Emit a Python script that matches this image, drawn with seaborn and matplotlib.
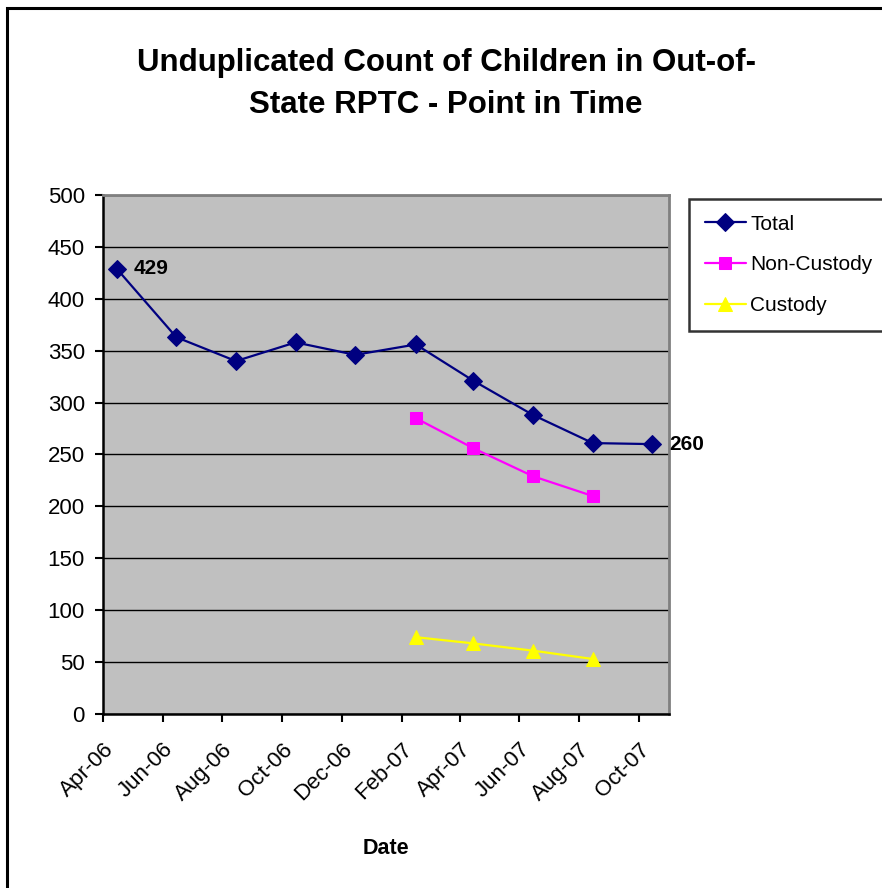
import pandas as pd
import numpy as np
import matplotlib
matplotlib.use('Agg')
import matplotlib.pyplot as plt
import matplotlib.dates as mdates
from matplotlib.patches import Rectangle
import seaborn as sns

# data (points sit mid-month)
dates = pd.to_datetime(['2006-04-15', '2006-06-15', '2006-08-15', '2006-10-15', '2006-12-15',
                        '2007-02-15', '2007-04-15', '2007-06-15', '2007-08-15', '2007-10-15'])
total = [429, 363, 340, 358, 346, 356, 321, 288, 261, 260]
non_custody = [285, 256, 229, 210]
custody = [74, 68, 61, 53]
sub_dates = dates[5:9]

sns.set_style('white')
plt.rcParams['font.family'] = ['Liberation Sans', 'DejaVu Sans']
plt.rcParams.update({'text.color': 'black', 'axes.labelcolor': 'black',
                     'xtick.color': 'black', 'ytick.color': 'black'})

W, H = 882, 888
fig = plt.figure(figsize=(W / 100, H / 100), dpi=100)
ax = fig.add_axes([103 / W, 1 - 714 / H, (669 - 103) / W, (714 - 195) / H])
ax.set_facecolor('#C0C0C0')

sns.lineplot(x=dates, y=total, ax=ax, color='#000080', marker='D', markersize=9,
             markeredgecolor='#000080', linewidth=1.6, label='Total', zorder=5)
sns.lineplot(x=sub_dates, y=non_custody, ax=ax, color='#FF00FF', marker='s', markersize=9,
             markerfacecolor='#FF00FF', markeredgecolor='#FF00FF', linewidth=1.6,
             label='Non-Custody', zorder=4)
sns.lineplot(x=sub_dates, y=custody, ax=ax, color='#FFFF00', marker='^', markersize=10,
             markeredgecolor='#FFFF00', linewidth=1.6, label='Custody', zorder=4)

# end labels
for i in [0, len(total) - 1]:
    ax.annotate(f'{total[i]}', (dates[i], total[i]), xytext=(12, 0), textcoords='offset points',
                ha='left', va='center', fontsize=15, fontweight='bold', annotation_clip=False)

ax.set_ylim(0, 500)
ax.set_yticks(np.arange(0, 501, 50))
ax.set_xlim(pd.Timestamp('2006-04-01'), pd.Timestamp('2007-11-01'))
ax.xaxis.set_major_locator(mdates.MonthLocator(bymonth=[2, 4, 6, 8, 10, 12]))
ax.xaxis.set_major_formatter(mdates.DateFormatter('%b-%y'))
ax.yaxis.grid(True, color='black', linewidth=1)
ax.xaxis.grid(False)
ax.set_axisbelow(True)

ax.tick_params(axis='y', direction='out', length=6, width=1.5, labelsize=16, pad=7, left=True)
ax.tick_params(axis='x', direction='out', length=6, width=1.5, labelsize=16, pad=12, bottom=True)
plt.setp(ax.get_xticklabels(), rotation=45, ha='right', rotation_mode='anchor')

for s in ['left', 'bottom']:
    ax.spines[s].set_color('black')
    ax.spines[s].set_linewidth(1.8)
for s in ['top', 'right']:
    ax.spines[s].set_color('#808080')
    ax.spines[s].set_linewidth(2)

ax.set_xlabel('Date', fontsize=15.5, fontweight='bold', labelpad=24)
ax.set_ylabel('')

ax.get_legend().remove()
leg = fig.legend(loc='upper left', bbox_to_anchor=(689 / W, 1 - 199 / H), fontsize=15,
                 frameon=True, fancybox=False, edgecolor='black', handlelength=2.0,
                 handletextpad=0.2, borderpad=0.75, labelspacing=1.05, borderaxespad=0)
leg.get_frame().set_linewidth(1.8)

fig.text(446 / W, 1 - 84 / H, 'Unduplicated Count of Children in Out-of-\nState RPTC - Point in Time',
         ha='center', va='center', fontsize=22.5, fontweight='bold', linespacing=1.55)

# outer chart frame
fig.add_artist(Rectangle((7 / W, -0.05), 1.1, 1 - 8 / H + 0.05, transform=fig.transFigure,
                         fill=False, edgecolor='black', linewidth=2.2, clip_on=False))

fig.savefig('out.png', dpi=100)
